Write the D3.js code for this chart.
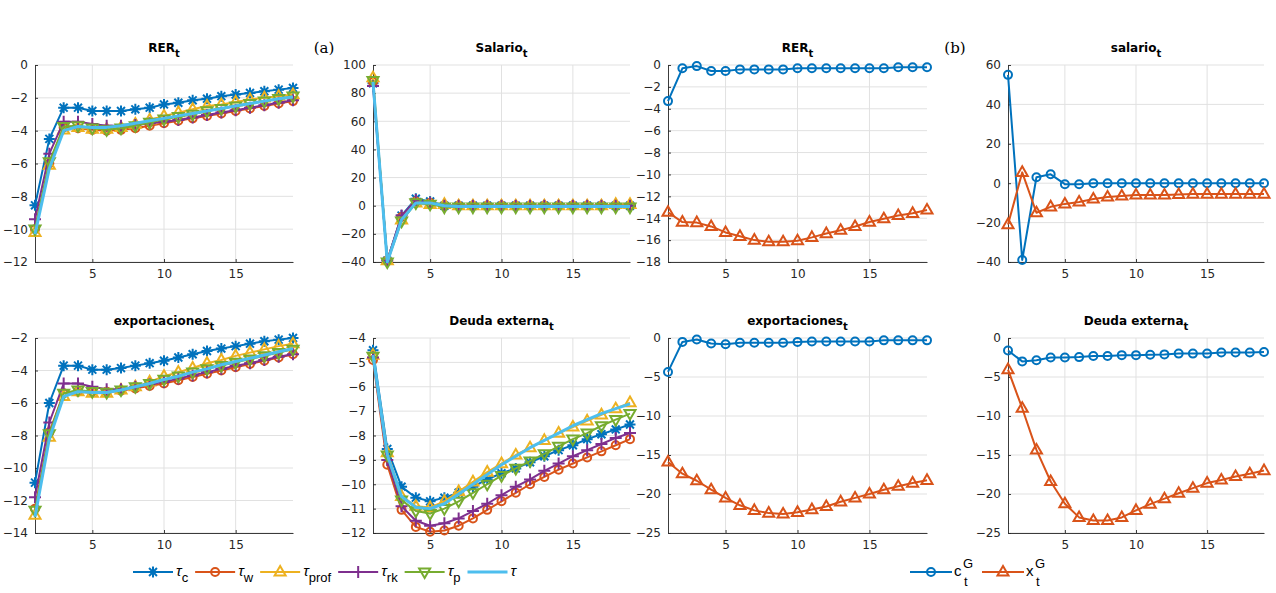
<!DOCTYPE html>
<html>
<head>
<meta charset="utf-8">
<script src="https://cdn.jsdelivr.net/npm/d3@7"></script>
<style>
  body { margin: 0; background: #fff; }
  text { font-family: "DejaVu Sans", "Liberation Sans", Arial, sans-serif; fill: #262626; }
</style>
</head>
<body>
<div id="chart"></div>
<script>
// periodos (eje x)
const periods = d3.range(1, 20);
const xTicks = [5, 10, 15];

// ---- (a) RER ----
const rerTc    = [-8.55,-4.5,-2.6,-2.6,-2.8,-2.8,-2.8,-2.7,-2.6,-2.4,-2.3,-2.15,-2.05,-1.9,-1.8,-1.7,-1.6,-1.5,-1.4];
const rerTw    = [-10.0,-6.0,-3.8,-3.85,-3.95,-4.0,-3.95,-3.85,-3.7,-3.55,-3.4,-3.25,-3.1,-2.95,-2.8,-2.65,-2.5,-2.35,-2.2];
const rerTprof = [-10.2,-6.1,-3.95,-3.8,-3.9,-3.9,-3.8,-3.6,-3.35,-3.1,-2.9,-2.7,-2.5,-2.4,-2.25,-2.1,-2.0,-1.9,-1.8];
const rerTrk   = [-9.4,-5.4,-3.45,-3.45,-3.6,-3.7,-3.7,-3.65,-3.55,-3.45,-3.35,-3.2,-3.05,-2.9,-2.75,-2.6,-2.45,-2.3,-2.15];
const rerTp    = [-10.0,-5.9,-3.75,-3.7,-3.85,-3.95,-3.85,-3.7,-3.5,-3.3,-3.15,-3.0,-2.8,-2.65,-2.5,-2.35,-2.2,-2.05,-1.9];
const rerTau   = [-10.3,-6.3,-4.0,-3.75,-3.8,-3.8,-3.7,-3.55,-3.4,-3.25,-3.1,-2.95,-2.8,-2.65,-2.5,-2.35,-2.2,-2.05,-1.95];

// ---- (a) Salario ----
const salTc    = [87,-39,-7,5,3,0,0,0,0,0,0,0,0,0,0,0,0,0,0];
const salTw    = [88,-39,-8,3,2,0,0,0,0,0,0,0,0,0,0,0,0,0,0];
const salTprof = [91,-39,-10,2,1,1,0,0,0,0,0,0,0,0,0,0,0,1,1];
const salTrk   = [85,-39,-7,4,2,0,0,0,0,0,0,0,0,0,0,0,0,0,0];
const salTp    = [89,-40,-11,2,1,-1,-1,-1,-1,-1,-1,-1,-1,-1,-1,-1,-1,-1,-1];
const salTau   = [88,-40,-10,2,2,0,-0.5,-0.5,-0.5,-0.5,-0.5,-0.5,-0.5,-0.5,-0.5,-0.5,-0.5,-0.5,-0.5];

// ---- (a) exportaciones ----
const expTc    = [-10.9,-6.0,-3.7,-3.7,-3.95,-3.95,-3.85,-3.7,-3.55,-3.4,-3.2,-3.0,-2.8,-2.65,-2.5,-2.35,-2.2,-2.1,-2.0];
const expTw    = [-12.5,-7.8,-5.4,-5.3,-5.3,-5.3,-5.25,-5.1,-4.95,-4.8,-4.6,-4.4,-4.2,-4.0,-3.8,-3.6,-3.4,-3.2,-3.0];
const expTprof = [-12.9,-8.1,-5.6,-5.3,-5.4,-5.4,-5.2,-5.0,-4.7,-4.35,-4.1,-3.85,-3.55,-3.35,-3.1,-2.9,-2.7,-2.5,-2.35];
const expTrk   = [-11.8,-7.2,-4.8,-4.8,-5.0,-5.15,-5.15,-5.0,-4.85,-4.7,-4.5,-4.3,-4.1,-3.9,-3.7,-3.55,-3.35,-3.15,-3.0];
const expTp    = [-12.6,-7.9,-5.4,-5.2,-5.3,-5.35,-5.2,-5.0,-4.8,-4.55,-4.35,-4.1,-3.9,-3.7,-3.5,-3.3,-3.1,-2.9,-2.7];
const expTau   = [-13.0,-8.2,-5.6,-5.3,-5.35,-5.35,-5.2,-5.0,-4.8,-4.55,-4.35,-4.1,-3.9,-3.65,-3.45,-3.25,-3.05,-2.85,-2.65];

// ---- (a) Deuda externa ----
const deuTc    = [-4.5,-8.55,-10.1,-10.55,-10.7,-10.55,-10.35,-10.1,-9.8,-9.55,-9.35,-9.1,-8.85,-8.6,-8.4,-8.15,-7.95,-7.75,-7.55];
const deuTw    = [-4.9,-9.2,-11.05,-11.75,-11.95,-11.9,-11.7,-11.4,-11.05,-10.7,-10.35,-10.0,-9.7,-9.4,-9.15,-8.9,-8.65,-8.4,-8.15];
const deuTprof = [-4.7,-8.7,-10.5,-10.9,-10.95,-10.7,-10.3,-9.9,-9.5,-9.15,-8.8,-8.5,-8.2,-7.9,-7.65,-7.4,-7.15,-6.9,-6.65];
const deuTrk   = [-4.8,-9.0,-10.9,-11.5,-11.7,-11.6,-11.4,-11.1,-10.8,-10.45,-10.1,-9.8,-9.45,-9.15,-8.85,-8.6,-8.35,-8.1,-7.9];
const deuTp    = [-4.75,-8.8,-10.65,-11.1,-11.2,-11.0,-10.7,-10.35,-10.0,-9.65,-9.35,-9.05,-8.75,-8.45,-8.15,-7.9,-7.6,-7.35,-7.1];
const deuTau   = [-4.7,-8.8,-10.5,-10.95,-11.0,-10.8,-10.4,-10.0,-9.6,-9.2,-8.85,-8.5,-8.2,-7.9,-7.6,-7.35,-7.1,-6.9,-6.7];

// ---- (b) RER ----
const rerCG = [-3.3,-0.3,-0.1,-0.55,-0.55,-0.4,-0.4,-0.4,-0.4,-0.3,-0.3,-0.3,-0.3,-0.3,-0.3,-0.3,-0.2,-0.2,-0.2];
const rerXG = [-13.45,-14.35,-14.4,-14.75,-15.3,-15.65,-16.0,-16.15,-16.15,-16.05,-15.75,-15.4,-15.1,-14.75,-14.35,-14.05,-13.75,-13.55,-13.25];

// ---- (b) salario ----
const salCG = [55,-39,3,4.5,-0.5,-0.5,0,0,0,0,0,0,0,0,0,0,0,0,0];
const salXG = [-21,5.5,-15,-12,-10.5,-9.5,-8,-7,-6.5,-6,-6,-6,-5.7,-5.5,-5.5,-5.5,-5.5,-5.5,-5.5];

// ---- (b) exportaciones ----
const expCG = [-4.35,-0.5,-0.2,-0.7,-0.8,-0.6,-0.6,-0.6,-0.6,-0.5,-0.45,-0.45,-0.45,-0.45,-0.45,-0.3,-0.3,-0.3,-0.3];
const expXG = [-15.9,-17.4,-18.3,-19.45,-20.5,-21.45,-22.1,-22.45,-22.55,-22.35,-22.0,-21.6,-21.0,-20.5,-20.0,-19.45,-19.0,-18.6,-18.25];

// ---- (b) Deuda externa ----
const deuCG = [-1.6,-3.0,-2.85,-2.5,-2.5,-2.45,-2.3,-2.3,-2.2,-2.2,-2.15,-2.1,-2.0,-2.0,-2.0,-1.85,-1.85,-1.85,-1.8];
const deuXG = [-4.05,-9.0,-14.35,-18.4,-21.25,-23.0,-23.4,-23.4,-23.0,-22.1,-21.3,-20.6,-19.9,-19.25,-18.6,-18.2,-17.75,-17.4,-17.0];

// nombres de las series
const namesA = ['c', 'w', 'prof', 'rk', 'p', ''];
const namesB = ['c', 'x'];

// estilos
const colors = ['#0072BD', '#D95319', '#EDB120', '#7E2F8E', '#77AC30', '#4DBEEE'];
const markersA = ['asterisk', 'circle', 'up', 'plus', 'down', null];
const markersB = ['circle', 'up'];

const width = 1276;
const height = 593;
const cols = [[35, 293], [373, 630], [668, 927], [1008, 1264]];
const rows = [[65, 262], [338, 533]];

const svg = d3.select('#chart').append('svg')
  .attr('width', width)
  .attr('height', height);

function markerPath(type, r) {
  const d = r * 0.72;
  switch (type) {
    case 'asterisk':
      return `M${-r},0H${r}M0,${-r}V${r}M${-d},${-d}L${d},${d}M${-d},${d}L${d},${-d}`;
    case 'circle':
      return `M${r},0A${r},${r} 0 1,1 ${-r},0A${r},${r} 0 1,1 ${r},0Z`;
    case 'up':
      return `M0,${-r}L${r * 0.92},${r * 0.6}L${-r * 0.92},${r * 0.6}Z`;
    case 'down':
      return `M0,${r}L${r * 0.92},${-r * 0.6}L${-r * 0.92},${-r * 0.6}Z`;
    case 'plus':
      return `M${-r},0H${r}M0,${-r}V${r}`;
  }
  return '';
}

const markerSize = { asterisk: 5.5, circle: 4, up: 6, plus: 6, down: 6 };

// panel configs
const panels = [
  { title: 'RER', col: 0, row: 0, domain: [-12, 0], ticks: d3.range(-12, 1, 2),
    data: [rerTc, rerTw, rerTprof, rerTrk, rerTp, rerTau], markers: markersA },
  { title: 'Salario', col: 1, row: 0, domain: [-40, 100], ticks: d3.range(-40, 101, 20),
    data: [salTc, salTw, salTprof, salTrk, salTp, salTau], markers: markersA },
  { title: 'exportaciones', col: 0, row: 1, domain: [-14, -2], ticks: d3.range(-14, -1, 2),
    data: [expTc, expTw, expTprof, expTrk, expTp, expTau], markers: markersA },
  { title: 'Deuda externa', col: 1, row: 1, domain: [-12, -4], ticks: d3.range(-12, -3, 1),
    data: [deuTc, deuTw, deuTprof, deuTrk, deuTp, deuTau], markers: markersA },
  { title: 'RER', col: 2, row: 0, domain: [-18, 0], ticks: d3.range(-18, 1, 2),
    data: [rerCG, rerXG], markers: markersB },
  { title: 'salario', col: 3, row: 0, domain: [-40, 60], ticks: d3.range(-40, 61, 20),
    data: [salCG, salXG], markers: markersB },
  { title: 'exportaciones', col: 2, row: 1, domain: [-25, 0], ticks: d3.range(-25, 1, 5),
    data: [expCG, expXG], markers: markersB },
  { title: 'Deuda externa', col: 3, row: 1, domain: [-25, 0], ticks: d3.range(-25, 1, 5),
    data: [deuCG, deuXG], markers: markersB }
];

panels.forEach(drawPanel);

function drawPanel(p) {
  const [x0, x1] = cols[p.col];
  const [y0, y1] = rows[p.row];
  const x = d3.scaleLinear().domain([1, 19]).range([x0, x1]);
  const y = d3.scaleLinear().domain(p.domain).range([y1, y0]);
  const g = svg.append('g').attr('class', 'panel');

  // grid
  g.selectAll('.hgrid').data(p.ticks).enter().append('line')
    .attr('x1', x0).attr('x2', x1)
    .attr('y1', d => y(d)).attr('y2', d => y(d))
    .attr('stroke', '#e1e1e1').attr('stroke-width', 1);
  g.selectAll('.vgrid').data(xTicks).enter().append('line')
    .attr('x1', d => x(d)).attr('x2', d => x(d))
    .attr('y1', y0).attr('y2', y1)
    .attr('stroke', '#e1e1e1').attr('stroke-width', 1);

  // ejes
  const yAxis = d3.axisLeft(y).tickValues(p.ticks).tickSizeInner(-3).tickSizeOuter(0).tickPadding(7);
  const xAxis = d3.axisBottom(x).tickValues(xTicks).tickSizeInner(-3).tickSizeOuter(0).tickPadding(7);
  const ya = g.append('g').attr('transform', `translate(${x0},0)`).call(yAxis);
  const xa = g.append('g').attr('transform', `translate(0,${y1})`).call(xAxis);
  [ya, xa].forEach(a => {
    a.select('.domain').attr('stroke', '#262626').attr('stroke-width', 0.9);
    a.selectAll('.tick line').attr('stroke', '#262626').attr('stroke-width', 0.9);
    a.selectAll('.tick text').attr('fill', '#262626').attr('font-size', 12)
      .style('font-family', '"DejaVu Sans", sans-serif');
  });

  // series
  const line = d3.line().x((d, i) => x(periods[i])).y(d => y(d));
  p.data.forEach((vals, k) => {
    const mk = p.markers[k];
    const lw = mk ? 2 : 3;
    g.append('path').datum(vals)
      .attr('d', line)
      .attr('fill', 'none')
      .attr('stroke', colors[k])
      .attr('stroke-width', lw)
      .attr('stroke-linejoin', 'round');
    if (mk) {
      g.selectAll(null).data(vals).enter().append('path')
        .attr('transform', (d, i) => `translate(${x(periods[i])},${y(d)})`)
        .attr('d', markerPath(mk, markerSize[mk]))
        .attr('fill', 'none')
        .attr('stroke', colors[k])
        .attr('stroke-width', 2);
    }
  });

  // titulo
  const t = g.append('text')
    .attr('x', (x0 + x1) / 2)
    .attr('y', y0 - 13)
    .attr('text-anchor', 'middle')
    .attr('font-size', 12)
    .attr('font-weight', 'bold')
    .style('fill', '#000');
  t.append('tspan').text(p.title);
  t.append('tspan').attr('dy', 5).attr('font-size', 10).text('t');
}

// etiquetas (a) y (b)
svg.append('text').attr('x', 324).attr('y', 53).attr('text-anchor', 'middle')
  .attr('font-size', 15).style('font-family', '"DejaVu Serif", "Liberation Serif", serif')
  .style('fill', '#000').text('(a)');
svg.append('text').attr('x', 955).attr('y', 53).attr('text-anchor', 'middle')
  .attr('font-size', 15).style('font-family', '"DejaVu Serif", "Liberation Serif", serif')
  .style('fill', '#000').text('(b)');

// leyenda (a)
const legA = svg.append('g').attr('class', 'legend');
let lx = 133;
const ly = 572;
namesA.forEach((name, k) => {
  legA.append('line').attr('x1', lx).attr('x2', lx + 40).attr('y1', ly).attr('y2', ly)
    .attr('stroke', colors[k]).attr('stroke-width', markersA[k] ? 2 : 3);
  if (markersA[k]) {
    legA.append('path').attr('transform', `translate(${lx + 20},${ly})`)
      .attr('d', markerPath(markersA[k], markerSize[markersA[k]]))
      .attr('fill', 'none').attr('stroke', colors[k]).attr('stroke-width', 2);
  }
  const txt = legA.append('text').attr('x', lx + 43).attr('y', ly + 4)
    .style('fill', '#000').style('font-family', '"Liberation Sans", Arial, sans-serif');
  txt.append('tspan').attr('font-size', 15).attr('font-style', 'italic').text('τ');
  if (name) txt.append('tspan').attr('font-size', 13).attr('dy', 6).text(name);
  lx = lx + 43 + txt.node().getComputedTextLength() + 7;
});

// leyenda (b)
const legB = svg.append('g').attr('class', 'legend');
let bx = 910;
namesB.forEach((name, k) => {
  legB.append('line').attr('x1', bx).attr('x2', bx + 42).attr('y1', ly).attr('y2', ly)
    .attr('stroke', colors[k]).attr('stroke-width', 2);
  legB.append('path').attr('transform', `translate(${bx + 21},${ly})`)
    .attr('d', markerPath(markersB[k], markerSize[markersB[k]]))
    .attr('fill', 'none').attr('stroke', colors[k]).attr('stroke-width', 2);
  const f = '"Liberation Sans", Arial, sans-serif';
  legB.append('text').attr('x', bx + 44).attr('y', ly + 4).style('font-family', f)
    .attr('font-size', 15).style('fill', '#000').text(name);
  legB.append('text').attr('x', bx + 53).attr('y', ly - 4).style('font-family', f)
    .attr('font-size', 13).style('fill', '#000').text('G');
  legB.append('text').attr('x', bx + 54).attr('y', ly + 14).style('font-family', f)
    .attr('font-size', 13).style('fill', '#000').text('t');
  bx = bx + 72;
});
</script>
</body>
</html>
